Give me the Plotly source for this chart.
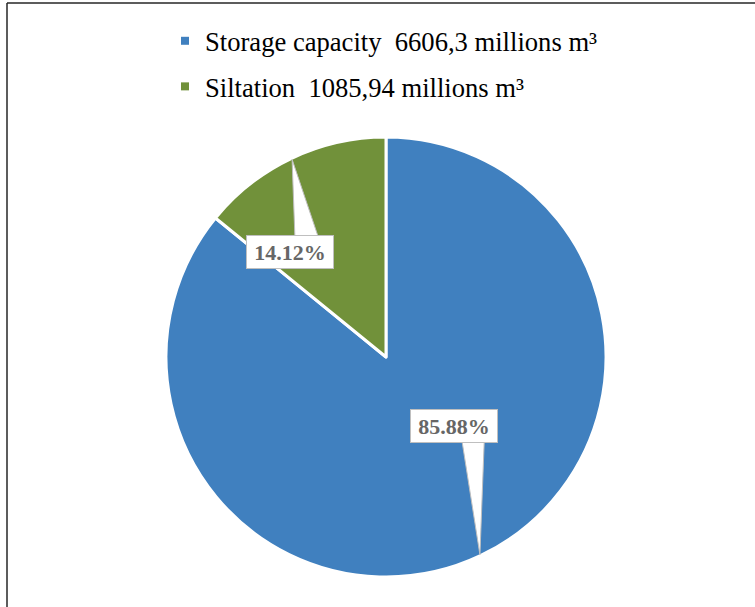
import math
import plotly.graph_objects as go

# ---- data ----
categories = ["Storage capacity", "Siltation"]
values = [6606.3, 1085.94]
unit = "millions m³"
colors = ["#4080BF", "#71913A"]

# ---- layout constants (pixels) ----
W, H = 755, 607
CX, CY, R = 386, 357, 220          # pie centre and radius
label_offsets = [(0.31, 0.315), (-0.437, -0.478)]   # box centre relative to pie centre, in R units (down +)
pointer_base = [(8, 30), (5, 28)]                    # pointer base x-offsets from box centre (px)
BOX_W, BOX_H = 88, 34
SERIF = "Liberation Serif, Times New Roman, serif"


def px(x):
    return x / W


def py(y):
    return 1 - y / H


total = sum(values)
pcts = [v / total * 100 for v in values]
legend_names = [f"{c}  {str(v).replace('.', ',')} {unit}" for c, v in zip(categories, values)]

fig = go.Figure()
fig.add_trace(go.Pie(
    labels=legend_names,
    values=values,
    sort=False,
    direction="clockwise",
    rotation=0,
    marker=dict(colors=colors, line=dict(color="white", width=3)),
    textinfo="none",
    hoverinfo="label+percent",
    showlegend=False,
    domain=dict(x=[px(CX - R), px(CX + R)], y=[py(CY + R), py(CY - R)]),
))

# legend entries (one group per category so the row gap can be set)
for name, col in zip(legend_names, colors):
    fig.add_trace(go.Scatter(
        x=[None], y=[None], mode="markers", name=name, legendgroup=name,
        marker=dict(symbol="square", size=8, color=col),
        hoverinfo="skip",
    ))

shapes = []
annotations = []
cum = 0
for i, v in enumerate(values):
    theta = (cum + v / 2) / total * 2 * math.pi
    cum += v
    tx = CX + R * 0.995 * math.sin(theta)
    ty = CY - R * 0.995 * math.cos(theta)
    bx = CX + label_offsets[i][0] * R
    by = CY + label_offsets[i][1] * R
    edge_y = by + (BOX_H / 2 - 1) * (1 if ty > by else -1)
    b0, b1 = pointer_base[i]
    path = (f"M {px(bx + b0)},{py(edge_y)} L {px(tx)},{py(ty)} "
            f"L {px(bx + b1)},{py(edge_y)} Z")
    shapes.append(dict(type="path", xref="paper", yref="paper", path=path,
                       fillcolor="white", line=dict(color="#BFBFBF", width=1),
                       layer="above"))
    annotations.append(dict(
        x=px(bx), y=py(by), xref="paper", yref="paper", showarrow=False,
        text=f"<b>{pcts[i]:.2f}%</b>",
        font=dict(family=SERIF, size=22, color="#666666"),
        bgcolor="white", bordercolor="#BFBFBF", borderwidth=1, borderpad=3,
        width=BOX_W - 8, height=BOX_H - 8, xanchor="center", yanchor="middle",
    ))

# chart frame (top and left edges)
shapes.append(dict(type="line", xref="paper", yref="paper",
                   x0=px(7), y0=py(3), x1=1, y1=py(3),
                   line=dict(color="#262626", width=1.5)))
shapes.append(dict(type="line", xref="paper", yref="paper",
                   x0=px(7), y0=py(3), x1=px(7), y1=0,
                   line=dict(color="#262626", width=1.5)))

fig.update_layout(
    width=W, height=H,
    margin=dict(l=0, r=0, t=0, b=0),
    paper_bgcolor="white",
    plot_bgcolor="white",
    font=dict(family=SERIF),
    xaxis=dict(visible=False, domain=[0, 0.01]),
    yaxis=dict(visible=False, domain=[0, 0.01]),
    showlegend=True,
    legend=dict(
        x=px(165), y=py(17), xanchor="left", yanchor="top",
        orientation="v", tracegroupgap=8,
        font=dict(family=SERIF, size=26.6, color="black"),
        bgcolor="rgba(0,0,0,0)",
    ),
    shapes=shapes,
    annotations=annotations,
)

fig.write_html("out.html", config={"displayModeBar": False},
               post_script="document.body.style.margin='0px';")
